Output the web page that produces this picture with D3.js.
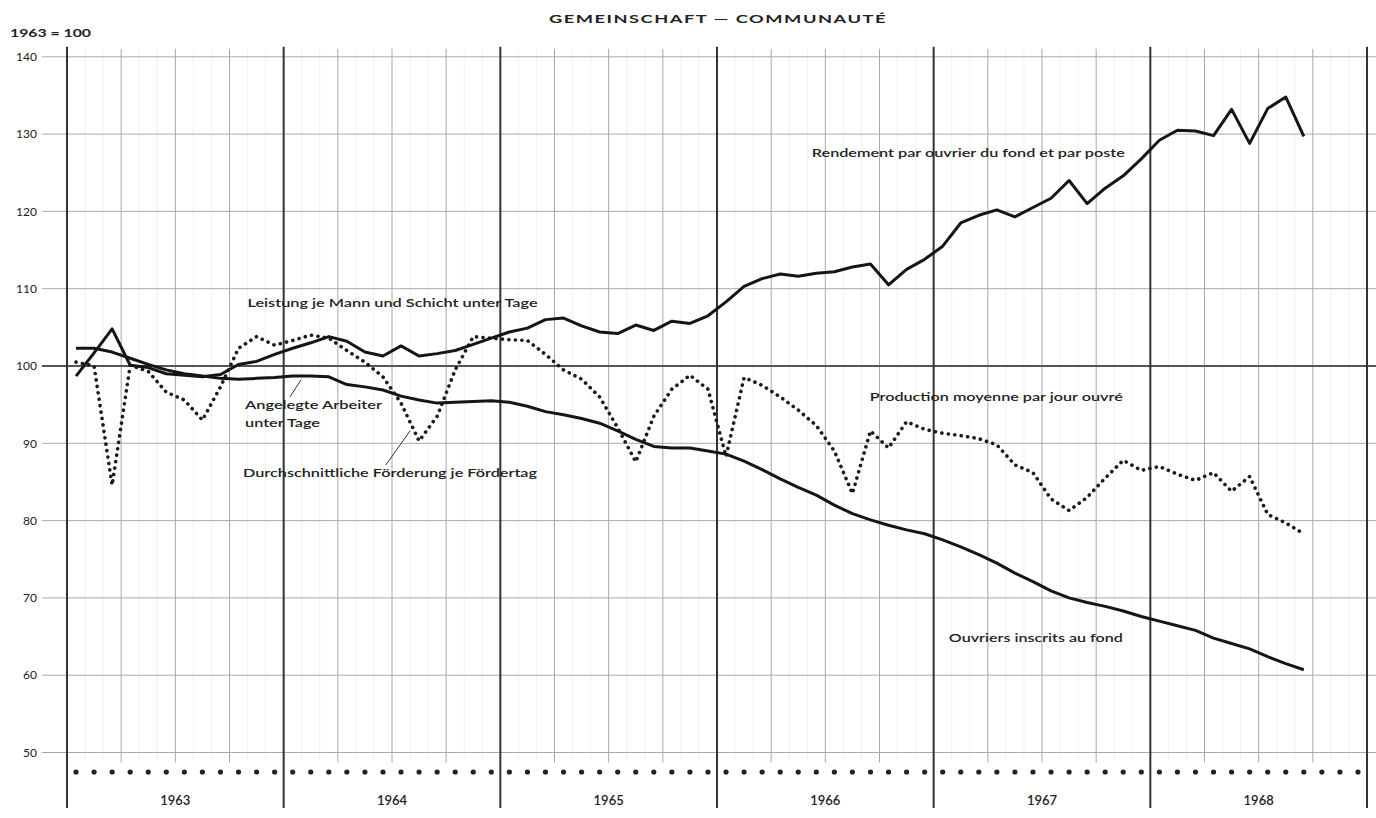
<!DOCTYPE html>
<html>
<head>
<meta charset="utf-8">
<script src="https://cdn.jsdelivr.net/npm/d3@7"></script>
<style>
  body { margin: 0; background: #fff; }
  text { font-family: Lato, "Liberation Sans", sans-serif; fill: #222; }
</style>
</head>
<body>
<script>
// monthly index numbers, Jan 1963 .. Sep 1968 (1963 = 100)
const years = ['1963', '1964', '1965', '1966', '1967', '1968'];
const yTicks = [50, 60, 70, 80, 90, 100, 110, 120, 130, 140];

// Leistung je Mann und Schicht unter Tage
const leistung = [
  98.7, 101.7, 104.8, 100.1, 99.8, 99.0, 98.8, 98.6, 98.9, 100.2, 100.6, 101.5,
  102.3, 103.0, 103.8, 103.2, 101.8, 101.3, 102.6, 101.3, 101.6, 102.0, 102.8, 103.6,
  104.4, 104.9, 106.0, 106.2, 105.2, 104.4, 104.2, 105.3, 104.6, 105.8, 105.5, 106.5,
  108.3, 110.3, 111.3, 111.9, 111.6, 112.0, 112.2, 112.8, 113.2, 110.5, 112.5, 113.8,
  115.5, 118.5, 119.5, 120.2, 119.3, 120.5, 121.7, 124.0, 121.0, 123.0, 124.6, 126.8,
  129.2, 130.5, 130.4, 129.8, 133.2, 128.8, 133.3, 134.8, 129.7,
];

// Angelegte Arbeiter unter Tage
const arbeiter = [
  102.3, 102.3, 101.8, 101.0, 100.2, 99.5, 99.0, 98.7, 98.4, 98.3, 98.4, 98.5,
  98.7, 98.7, 98.6, 97.6, 97.3, 96.9, 96.1, 95.6, 95.2, 95.3, 95.4, 95.5,
  95.3, 94.8, 94.1, 93.7, 93.2, 92.6, 91.6, 90.5, 89.6, 89.4, 89.4, 89.0,
  88.6, 87.7, 86.6, 85.4, 84.3, 83.3, 82.0, 80.9, 80.1, 79.4, 78.8, 78.3,
  77.5, 76.6, 75.6, 74.5, 73.2, 72.1, 70.9, 70.0, 69.4, 68.9, 68.3, 67.6,
  67.0, 66.4, 65.8, 64.8, 64.1, 63.4, 62.4, 61.5, 60.7,
];

// Durchschnittliche Förderung je Fördertag
const foerderung = [
  100.5, 100.0, 84.6, 100.1, 99.3, 96.6, 95.6, 93.0, 97.3, 102.3, 103.8, 102.7,
  103.3, 104.0, 103.6, 102.0, 100.5, 98.6, 95.2, 90.3, 93.5, 99.5, 103.8, 103.6,
  103.4, 103.3, 101.5, 99.5, 98.3, 96.0, 92.0, 87.6, 93.5, 97.0, 98.8, 97.0,
  88.3, 98.5, 97.5, 96.0, 94.3, 92.3, 89.0, 83.5, 91.6, 89.4, 92.8, 91.8,
  91.3, 91.0, 90.6, 89.8, 87.2, 86.2, 82.8, 81.3, 83.0, 85.5, 87.8, 86.5,
  87.0, 86.0, 85.2, 86.2, 83.8, 85.7, 80.8, 79.7, 78.3,
];

// labels: anchored in month / index units
const labels = [
  { text: 'Leistung je Mann und Schicht unter Tage', m: 10.0, v: 107.6, w: 290 },
  { text: 'Rendement par ouvrier du fond et par poste', m: 41.25, v: 127.0, w: 313 },
  { text: 'Angelegte Arbeiter', m: 9.86, v: 94.4, w: 137 },
  { text: 'unter Tage', m: 9.86, v: 92.1, w: 75 },
  { text: 'Durchschnittliche Förderung je Fördertag', m: 9.75, v: 85.6, w: 294 },
  { text: 'Production moyenne par jour ouvré', m: 44.46, v: 95.5, w: 253 },
  { text: 'Ouvriers inscrits au fond', m: 48.84, v: 64.3, w: 174 },
];
const pointers = [
  { m1: 12.35, v1: 96.0, m2: 12.96, v2: 98.2 },
  { m1: 17.66, v1: 87.2, m2: 19.0, v2: 91.6 },
];

const width = 1376;
const height = 818;
const monthsTotal = years.length * 12;

const svg = d3.select('body').append('svg')
  .attr('width', width)
  .attr('height', height);

const x = d3.scaleLinear().domain([0, monthsTotal]).range([67, 1367]);
const y = d3.scaleLinear().domain([50, 140]).range([752.5, 56.8]);
const mx = i => x(i + 0.5);

// faint monthly grid
svg.append('g')
  .selectAll('line')
  .data(d3.range(1, monthsTotal).filter(i => i % 3 !== 0))
  .join('line')
  .attr('x1', d => x(d)).attr('x2', d => x(d))
  .attr('y1', y(140) - 8).attr('y2', y(50) + 8)
  .attr('stroke', '#f1f1f1')
  .attr('stroke-width', 1);

// quarter lines
svg.append('g')
  .selectAll('line')
  .data(d3.range(3, monthsTotal, 3).filter(i => i % 12 !== 0))
  .join('line')
  .attr('x1', d => x(d)).attr('x2', d => x(d))
  .attr('y1', y(140) - 8).attr('y2', y(50) + 10)
  .attr('stroke', '#a8a8a8')
  .attr('stroke-width', 1);

// horizontal grid + y labels
const yAxis = svg.append('g');
yAxis.selectAll('line')
  .data(yTicks)
  .join('line')
  .attr('x1', 42).attr('x2', width)
  .attr('y1', d => y(d)).attr('y2', d => y(d))
  .attr('stroke', d => (d === 100 ? '#555' : '#aaa'))
  .attr('stroke-width', d => (d === 100 ? 2 : 1));
yAxis.selectAll('text')
  .data(yTicks)
  .join('text')
  .attr('x', 37)
  .attr('y', d => y(d))
  .attr('dy', '0.35em')
  .attr('text-anchor', 'end')
  .attr('font-size', 12)
  .text(d => d);

// year boundaries
svg.append('g')
  .selectAll('line')
  .data(d3.range(0, monthsTotal + 1, 12))
  .join('line')
  .attr('x1', d => x(d)).attr('x2', d => x(d))
  .attr('y1', y(140) - 10).attr('y2', 808)
  .attr('stroke', '#333')
  .attr('stroke-width', 2);

// month markers along the bottom
svg.append('g')
  .selectAll('circle')
  .data(d3.range(monthsTotal))
  .join('circle')
  .attr('cx', d => mx(d))
  .attr('cy', 772)
  .attr('r', 2.6)
  .attr('fill', '#222');

svg.append('g')
  .selectAll('text')
  .data(years)
  .join('text')
  .attr('x', (d, i) => x(i * 12 + 6))
  .attr('y', 805)
  .attr('text-anchor', 'middle')
  .attr('font-size', 13)
  .attr('font-weight', 600)
  .text(d => d);

// series
const line = d3.line().x((d, i) => mx(i)).y(d => y(d));

svg.append('path')
  .datum(foerderung)
  .attr('d', line)
  .attr('fill', 'none')
  .attr('stroke', '#1a1a1a')
  .attr('stroke-width', 3.6)
  .attr('stroke-linecap', 'round')
  .attr('stroke-dasharray', '0.1,6.4');

[arbeiter, leistung].forEach((series) => {
  svg.append('path')
    .datum(series)
    .attr('d', line)
    .attr('fill', 'none')
    .attr('stroke', '#151515')
    .attr('stroke-width', 3)
    .attr('stroke-linejoin', 'round');
});

// annotations
svg.append('g')
  .selectAll('line')
  .data(pointers)
  .join('line')
  .attr('x1', d => mx(d.m1 - 0.5)).attr('y1', d => y(d.v1))
  .attr('x2', d => mx(d.m2 - 0.5)).attr('y2', d => y(d.v2))
  .attr('stroke', '#333')
  .attr('stroke-width', 1);

svg.append('g')
  .selectAll('text')
  .data(labels)
  .join('text')
  .attr('x', d => mx(d.m - 0.5))
  .attr('y', d => y(d.v))
  .attr('font-size', 11.5)
  .attr('font-weight', 600)
  .attr('textLength', d => d.w)
  .attr('lengthAdjust', 'spacingAndGlyphs')
  .text(d => d.text);

svg.append('text')
  .attr('x', 10).attr('y', 37)
  .attr('font-size', 11.5)
  .attr('font-weight', 700)
  .attr('textLength', 81)
  .attr('lengthAdjust', 'spacingAndGlyphs')
  .text('1963 = 100');

svg.append('text')
  .attr('x', 718).attr('y', 23)
  .attr('text-anchor', 'middle')
  .attr('font-size', 12)
  .attr('font-weight', 700)
  .attr('letter-spacing', 1)
  .attr('textLength', 338)
  .attr('lengthAdjust', 'spacingAndGlyphs')
  .text('GEMEINSCHAFT — COMMUNAUTÉ');
</script>
</body>
</html>
